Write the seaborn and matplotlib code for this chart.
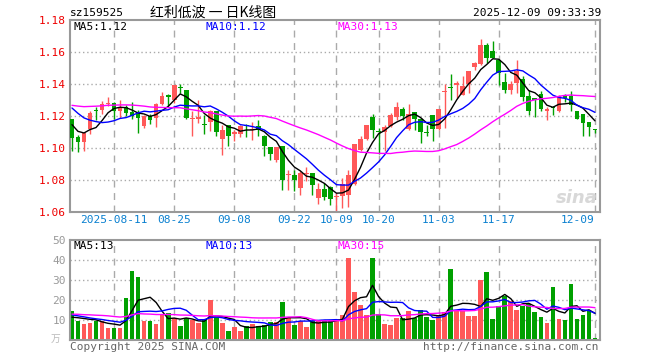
import numpy as np
import pandas as pd
import seaborn as sns
import matplotlib.pyplot as plt

# ---- data (88 trading days, 2025-07-31 .. 2025-12-09) ----
open_ = [1.118, 1.1067, 1.1035, 1.1119, 1.1235, 1.1235, 1.1275, 1.128, 1.1229, 1.1258,
         1.1223, 1.1225, 1.1135, 1.1198, 1.1188, 1.1277, 1.1333, 1.1302, 1.1377, 1.1365,
         1.1181, 1.1183, 1.1146, 1.116, 1.1229, 1.1058, 1.1144, 1.1087, 1.109, 1.1144,
         1.1113, 1.1135, 1.1077, 1.1006, 1.0927, 1.101, 1.0831, 1.0833, 1.0748, 1.0838,
         1.0844, 1.0688, 1.0746, 1.0754, 1.0696, 1.0698, 1.0708, 1.0777, 1.099, 1.1056,
         1.1194, 1.1106, 1.1098, 1.1135, 1.1194, 1.1246, 1.1119, 1.1227, 1.1181, 1.1096,
         1.1208, 1.1119, 1.135, 1.1383, 1.1396, 1.1333, 1.14, 1.1506, 1.1527, 1.1646,
         1.1604, 1.1548, 1.1413, 1.1365, 1.1406, 1.1431, 1.1327, 1.1313, 1.1338, 1.1229,
         1.1256, 1.1229, 1.1325, 1.1323, 1.1233, 1.1215, 1.116, 1.1117]
high = [1.118, 1.1083, 1.110, 1.123, 1.1256, 1.1292, 1.1317, 1.129, 1.130, 1.127,
        1.1285, 1.1235, 1.1205, 1.121, 1.128, 1.1348, 1.1335, 1.1396, 1.140, 1.1365,
        1.1229, 1.1302, 1.1208, 1.124, 1.1229, 1.1146, 1.1146, 1.1115, 1.1144, 1.1148,
        1.116, 1.1177, 1.108, 1.1008, 1.1006, 1.101, 1.0865, 1.0865, 1.0854, 1.0881,
        1.0844, 1.0781, 1.0781, 1.0765, 1.0719, 1.0813, 1.086, 1.1027, 1.1077, 1.1146,
        1.1213, 1.1125, 1.1146, 1.1219, 1.1285, 1.1258, 1.1277, 1.1227, 1.1188, 1.1146,
        1.1208, 1.1246, 1.140, 1.1465, 1.1417, 1.1448, 1.1483, 1.1535, 1.1683, 1.1656,
        1.1667, 1.155, 1.1469, 1.1417, 1.1552, 1.1452, 1.1365, 1.1313, 1.1354, 1.1256,
        1.1265, 1.1331, 1.1335, 1.1354, 1.1233, 1.1215, 1.116, 1.1117]
low = [1.098, 1.0973, 1.098, 1.109, 1.1177, 1.1215, 1.1265, 1.118, 1.119, 1.120,
       1.118, 1.1094, 1.1125, 1.1152, 1.113, 1.127, 1.126, 1.128, 1.1344, 1.118,
       1.1077, 1.1156, 1.109, 1.1104, 1.1073, 1.0958, 1.101, 1.1042, 1.1069, 1.107,
       1.1052, 1.1073, 1.0952, 1.0927, 1.0915, 1.074, 1.0735, 1.0729, 1.0708, 1.0792,
       1.0708, 1.0652, 1.0673, 1.0642, 1.0604, 1.0625, 1.0629, 1.0771, 1.098, 1.1052,
       1.1063, 1.0965, 1.098, 1.113, 1.1177, 1.1173, 1.111, 1.111, 1.1031, 1.1077,
       1.1042, 1.1115, 1.1125, 1.1298, 1.1313, 1.133, 1.1344, 1.149, 1.152, 1.1531,
       1.156, 1.1396, 1.1344, 1.134, 1.1344, 1.1292, 1.1208, 1.1194, 1.1229, 1.1177,
       1.1208, 1.1223, 1.1285, 1.1229, 1.118, 1.1077, 1.1077, 1.1094]
close = [1.106, 1.1035, 1.1096, 1.1217, 1.1232, 1.1277, 1.128, 1.123, 1.1254, 1.1219,
         1.1202, 1.1188, 1.120, 1.1177, 1.1277, 1.1327, 1.1317, 1.1396, 1.1373, 1.1188,
         1.1185, 1.1192, 1.1142, 1.1229, 1.1098, 1.1115, 1.1077, 1.110, 1.1135, 1.1135,
         1.1117, 1.111, 1.101, 1.0965, 1.1006, 1.080, 1.0835, 1.0798, 1.0844, 1.0842,
         1.0767, 1.0746, 1.0694, 1.0681, 1.0700, 1.0777, 1.0833, 1.1027, 1.1058, 1.1146,
         1.111, 1.1102, 1.1131, 1.1208, 1.1258, 1.1198, 1.1215, 1.1181, 1.1098, 1.1092,
         1.1119, 1.1246, 1.1354, 1.1378, 1.1406, 1.1385, 1.1483, 1.1531, 1.1646, 1.1565,
         1.1563, 1.1469, 1.1365, 1.14, 1.1479, 1.1317, 1.1229, 1.1302, 1.1246, 1.1244,
         1.1252, 1.1323, 1.1315, 1.127, 1.1181, 1.1156, 1.1129, 1.1113]
volume = [14.6, 9.7, 8.0, 8.5, 9.7, 9.5, 6.0, 6.0, 6.0, 21.1,
          34.7, 31.7, 9.7, 9.7, 8.0, 12.6, 13.4, 11.1, 7.0, 10.9,
          10.2, 8.7, 10.1, 19.8, 11.4, 8.7, 4.7, 6.7, 4.7, 7.0,
          8.0, 7.0, 7.7, 9.2, 9.2, 18.8, 10.9, 7.5, 9.4, 6.7,
          9.4, 9.4, 9.7, 9.7, 10.4, 12.6, 41.2, 24.1, 17.6, 12.6,
          41.2, 13.1, 8.0, 7.5, 11.1, 10.9, 14.6, 10.9, 15.1, 11.7,
          10.1, 12.6, 14.2, 35.7, 14.6, 14.6, 12.1, 12.1, 30.2, 34.2,
          10.6, 17.1, 21.8, 19.6, 15.1, 17.1, 18.1, 14.1, 11.6, 8.7,
          26.6, 10.6, 10.1, 27.8, 10.6, 12.6, 14.4, 1.2]

# earlier days (off screen), estimated from where the MA lines start
close_hist = [1.118, 1.120, 1.117, 1.119, 1.121, 1.118, 1.120, 1.122, 1.121, 1.123,
              1.128, 1.131, 1.133, 1.135, 1.134, 1.137, 1.139, 1.140, 1.138, 1.136,
              1.137, 1.138, 1.136, 1.132, 1.134, 1.1245, 1.1146, 1.1112, 1.1167]
volume_hist = [12, 14, 11, 15, 13, 12, 16, 14, 12, 11,
               13, 15, 12, 14, 13, 12, 14, 13, 12, 14,
               15, 13, 14, 14, 13, 11, 10, 10.5, 10.9]

tick_pos = [7, 17, 27, 37, 44, 51, 61, 71, 87]
tick_labels = ['2025-08-11', '08-25', '09-08', '09-22', '10-09', '10-20', '11-03', '11-17', '12-09']
price_ticks = [1.06, 1.08, 1.10, 1.12, 1.14, 1.16, 1.18]
vol_ticks = [10, 20, 30, 40, 50]
price_legend = ['MA5:1.12', 'MA10:1.12', 'MA30:1.13']
vol_legend = ['MA5:13', 'MA10:13', 'MA30:15']

RED = '#ff5858'
GREEN = '#00a000'
GRID = '#aaaaaa'
FRAME = '#999999'
MA_COLORS = ['black', '#0000ff', '#ff00ff']

sns.set_style('white')
plt.rcParams['font.family'] = ['DejaVu Sans Mono', 'Noto Sans CJK SC']

n = len(close)
idx = np.arange(n)
df = pd.DataFrame({'i': idx, 'open': open_, 'high': high, 'low': low,
                   'close': close, 'volume': volume})
up = df['close'] >= df['open']
colors = np.where(up, RED, GREEN)

c_all = pd.Series(close_hist + close)
v_all = pd.Series(volume_hist + volume)
k = len(close_hist)
for w in (5, 10, 30):
    df['ma%d' % w] = c_all.rolling(w).mean().iloc[k:].values
    df['vma%d' % w] = v_all.rolling(w).mean().iloc[k:].values

W, H = 660, 360
fig = plt.figure(figsize=(W / 100, H / 100), dpi=100)
ax1 = fig.add_axes([70 / W, 1 - 212 / H, 530 / W, 192 / H])
ax2 = fig.add_axes([70 / W, 1 - 340 / H, 530 / W, 100 / H])

xlim = (-0.33, 87.84)

# ---- price panel ----
for t in price_ticks[1:-1]:
    ax1.axhline(t, color=GRID, lw=1, ls=(0, (1, 2)), zorder=0)
for t in tick_pos:
    ax1.axvline(t, color=GRID, lw=1, ls=(0, (5, 4)), zorder=0)

body = (df['close'] - df['open']).abs().clip(lower=0.0006)
bottom = df[['open', 'close']].min(axis=1)
ax1.vlines(idx, df['low'], df['high'], colors=colors, lw=1, zorder=2)
ax1.bar(idx, body, bottom=bottom, width=0.78, color=colors, linewidth=0, zorder=3)

for w, col in zip((5, 10, 30), MA_COLORS):
    sns.lineplot(data=df, x='i', y='ma%d' % w, ax=ax1, color=col, lw=1, zorder=4)

ax1.set_xlim(*xlim)
ax1.set_ylim(1.06, 1.18)
ax1.set_yticks(price_ticks)
ax1.set_yticklabels(['%.2f' % t for t in price_ticks])
ax1.set_xticks(tick_pos)
ax1.set_xticklabels(tick_labels)
ax1.get_xticklabels()[-1].set_horizontalalignment('right')
ax1.tick_params(axis='y', length=0, pad=3, labelsize=8, labelcolor='#ee0000')
ax1.tick_params(axis='x', length=0, pad=2, labelsize=8, labelcolor='#0a80d0')
ax1.set_xlabel('')
ax1.set_ylabel('')

# ---- volume panel ----
for t in vol_ticks[:-1]:
    ax2.axhline(t, color=GRID, lw=1, ls=(0, (1, 2)), zorder=0)
for t in tick_pos:
    ax2.axvline(t, color=GRID, lw=1, ls=(0, (5, 4)), zorder=0)

ax2.bar(idx, df['volume'], width=0.78, color=colors, linewidth=0, zorder=2)
for w, col in zip((5, 10, 30), MA_COLORS):
    sns.lineplot(data=df, x='i', y='vma%d' % w, ax=ax2, color=col, lw=1, zorder=4)

ax2.set_xlim(*xlim)
ax2.set_ylim(0, 50)
ax2.set_yticks(vol_ticks)
ax2.set_xticks([])
ax2.tick_params(axis='y', length=0, pad=3, labelsize=8, labelcolor='#999999')
ax2.set_xlabel('')
ax2.set_ylabel('')

for ax in (ax1, ax2):
    for s in ax.spines.values():
        s.set_visible(True)
        s.set_color(FRAME)
        s.set_linewidth(1.5)


def px_text(x, y, s, **kw):
    fig.text(x / W, 1 - y / H, s, va='center', **kw)


# header
px_text(70, 13, 'sz159525', fontsize=8, color='black')
px_text(150, 13, '红利低波 一 日K线图', fontsize=10, color='black',
        family=['Noto Sans CJK SC', 'DejaVu Sans'])
px_text(601, 13, '2025-12-09 09:33:39', fontsize=8, color='black', ha='right')

# MA legends
for x, s, col in zip((74, 206, 337), price_legend, MA_COLORS):
    px_text(x, 27, s, fontsize=8, color=col)
for x, s, col in zip((74, 206, 337), vol_legend, MA_COLORS):
    px_text(x, 246, s, fontsize=8, color=col)

# footer
px_text(56, 339, '万', fontsize=7, color='#bbbbbb', ha='center',
        family=['Noto Sans CJK SC', 'DejaVu Sans'])
px_text(70, 347, 'Copyright 2025 SINA.COM', fontsize=8, color='#666666')
px_text(598, 347, 'http://finance.sina.com.cn', fontsize=8, color='#666666', ha='right')

# sina watermark
px_text(598, 198, 'sina', fontsize=13, color='#d8d8d8', ha='right',
        fontweight='bold', fontstyle='italic', family=['DejaVu Sans'])

fig.savefig('out.png', dpi=100)
